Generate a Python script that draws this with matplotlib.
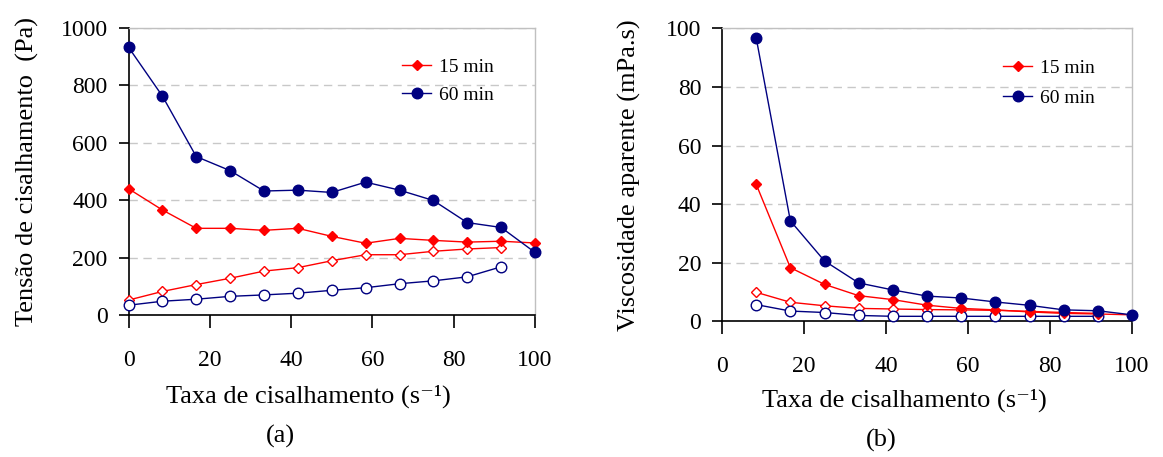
import matplotlib
matplotlib.use('Agg')
import matplotlib.pyplot as plt

plt.rcParams['font.family'] = ['Liberation Serif', 'DejaVu Serif']

# ---------------- data ----------------
# (a) shear stress vs shear rate
rate_a_down = [0, 8.33, 16.67, 25, 33.33, 41.67, 50, 58.33, 66.67, 75, 83.33, 91.67, 100]
rate_a_up = [0, 8.33, 16.67, 25, 33.33, 41.67, 50, 58.33, 66.67, 75, 83.33, 91.67]
stress_15_down = [440, 366, 302, 302, 295, 302, 274, 250, 267, 260, 254, 257, 251]
stress_60_down = [933, 763, 552, 503, 432, 435, 427, 463, 435, 399, 322, 305, 218]
stress_15_up = [52, 82, 106, 128, 153, 165, 189, 210, 210, 222, 230, 235]
stress_60_up = [34, 48, 55, 65, 70, 76, 86, 95, 109, 119, 133, 168]

# (b) apparent viscosity vs shear rate
rate_b_down = [8.33, 16.67, 25, 33.33, 41.67, 50, 58.33, 66.67, 75, 83.33, 91.67, 100]
rate_b_up = [8.33, 16.67, 25, 33.33, 41.67, 50, 58.33, 66.67, 75, 83.33, 91.67]
visc_15_down = [46.8, 18.3, 12.6, 8.75, 7.4, 5.5, 4.4, 3.9, 3.2, 2.7, 2.5, 2.2]
visc_60_down = [96.8, 34.3, 20.6, 13.1, 10.7, 8.6, 7.95, 6.6, 5.45, 3.9, 3.6, 2.2]
visc_15_up = [9.9, 6.5, 5.3, 4.4, 4.2, 4.0, 3.9, 3.75, 3.4, 3.0, 2.7]
visc_60_up = [5.7, 3.5, 3.0, 2.0, 1.7, 1.7, 1.7, 1.7, 1.7, 1.7, 1.7]

labels = ['15 min', '60 min']
xticks = [0, 20, 40, 60, 80, 100]
yticks_a = [0, 200, 400, 600, 800, 1000]
yticks_b = [0, 20, 40, 60, 80, 100]
xlabel = 'Taxa de cisalhamento (s\u207b\u00b9)'
ylabel_a = 'Tensão de cisalhamento  (Pa)'
ylabel_b = 'Viscosidade aparente (mPa.s)'

RED = '#ff0000'
NAVY = '#000080'
W, H = 1163, 457

fig = plt.figure(figsize=(W / 100, H / 100), dpi=100)
ax1 = fig.add_axes([128.5 / W, 1 - 315 / H, 406.5 / W, 287 / H])
ax2 = fig.add_axes([722 / W, 1 - 321.3 / H, 410 / W, 293 / H])


def style(ax, yticks):
    ax.set_xlim(0, 100)
    ax.set_ylim(yticks[0], yticks[-1])
    ax.set_xticks(xticks)
    ax.set_yticks(yticks)
    for s in ['top', 'right']:
        ax.spines[s].set_color('#c0c0c0')
        ax.spines[s].set_linewidth(1.0)
    for s in ['left', 'bottom']:
        ax.spines[s].set_color('black')
        ax.spines[s].set_linewidth(1.2)
    ax.tick_params(axis='x', direction='out', length=9, width=1.2, pad=16, labelsize=17)
    ax.tick_params(axis='y', direction='out', length=7, width=1.2, pad=8, labelsize=17)
    ax.grid(axis='y', linestyle=(0, (6, 4)), color='#c8c8c8', linewidth=1.0)
    ax.set_axisbelow(True)


def series(ax, x, y, color, marker, ms, filled, label=None):
    ax.plot(x, y, color=color, lw=1.0, marker=marker, ms=ms,
            mfc=color if filled else 'white', mec=color, mew=1.0,
            clip_on=False, zorder=3, label=label)


# (a)
style(ax1, yticks_a)
series(ax1, rate_a_up, stress_15_up, RED, 'D', 5.2, False)
series(ax1, rate_a_up, stress_60_up, NAVY, 'o', 7.6, False)
series(ax1, rate_a_down, stress_15_down, RED, 'D', 5.2, True, labels[0])
series(ax1, rate_a_down, stress_60_down, NAVY, 'o', 7.6, True, labels[1])

# (b)
style(ax2, yticks_b)
series(ax2, rate_b_up, visc_15_up, RED, 'D', 5.2, False)
series(ax2, rate_b_up, visc_60_up, NAVY, 'o', 7.6, False)
series(ax2, rate_b_down, visc_15_down, RED, 'D', 5.2, True, labels[0])
series(ax2, rate_b_down, visc_60_down, NAVY, 'o', 7.6, True, labels[1])

for ax, lx, ly, sp in [(ax1, 402, 58, 0.55), (ax2, 1003, 59, 0.65)]:
    ax.legend(loc='upper left', bbox_to_anchor=(lx / W, 1 - ly / H),
              bbox_transform=fig.transFigure, frameon=False, fontsize=14,
              borderpad=0, borderaxespad=0, handlelength=1.5,
              handletextpad=0.4, labelspacing=sp, numpoints=1)

# axis labels
ax1.set_xlabel(xlabel, fontsize=19)
ax1.xaxis.label.set_va('baseline')
ax1.xaxis.set_label_coords((308 - 128.5) / 406.5, -(403 - 315) / 287)
ax2.set_xlabel(xlabel, fontsize=19)
ax2.xaxis.label.set_va('baseline')
ax2.xaxis.set_label_coords((904 - 722) / 410, -(407 - 321.3) / 293)

ax1.set_ylabel(ylabel_a, fontsize=19)
ax1.yaxis.set_label_coords((39 - 128.5) / 406.5, 0.5)
ax2.set_ylabel(ylabel_b, fontsize=19)
ax2.yaxis.set_label_coords((641 - 722) / 410, 0.5)

fig.text(280 / W, 1 - 443 / H, '(a)', ha='center', va='baseline', fontsize=19)
fig.text(881 / W, 1 - 447 / H, '(b)', ha='center', va='baseline', fontsize=19)

fig.savefig('out.png', dpi=100)
